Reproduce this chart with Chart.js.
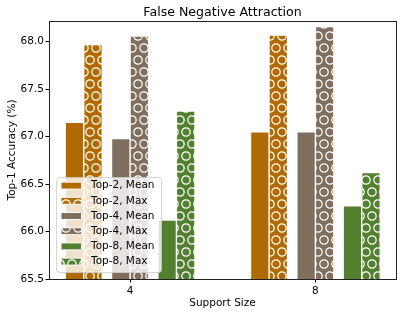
<!DOCTYPE html>
<html>
<head>
<meta charset="utf-8">
<script src="https://cdn.jsdelivr.net/npm/chart.js@4/dist/chart.umd.min.js"></script>
<style>
  body { margin: 0; background: #fff; }
  #wrap { width: 403px; height: 317px; position: relative; }
</style>
</head>
<body>
<div id="wrap"><canvas id="chart"></canvas></div>
<script>
// values
const supportSizes = [4, 8];
const seriesNames = ['Top-2, Mean', 'Top-2, Max', 'Top-4, Mean', 'Top-4, Max', 'Top-8, Mean', 'Top-8, Max'];
const top2Mean = [67.15, 67.05];
const top2Max = [67.97, 68.07];
const top4Mean = [66.98, 67.05];
const top4Max = [68.06, 68.16];
const top8Mean = [66.12, 66.27];
const top8Max = [67.27, 66.62];
const yTicks = [65.5, 66.0, 66.5, 67.0, 67.5, 68.0];

const FONT = 'DejaVu Sans';
const colTop2 = '#b06b00';
const colTop4 = '#806e5f';
const colTop8 = '#53802f';

// matplotlib style 'O' hatch: white rings on the bar colour
function circleHatch(color) {
    const p = 12;
    const c = document.createElement('canvas');
    c.width = p;
    c.height = 2 * p;
    const g = c.getContext('2d');
    g.fillStyle = color;
    g.fillRect(0, 0, p, 2 * p);
    g.strokeStyle = '#fff';
    g.lineWidth = 1.2;
    const r = 0.35 * p;
    [[0, 0], [p, 0], [0, 2 * p], [p, 2 * p], [p / 2, p]].forEach(([x, y]) => {
        g.beginPath();
        g.arc(x, y, r, 0, Math.PI * 2);
        g.stroke();
    });
    return document.getElementById('chart').getContext('2d').createPattern(c, 'repeat');
}

// pairs sit at -1, 0, +1 around each support size, mean left / max right
const pairShift = [-1, 0, 1];
const halfWidth = 0.2;

function makeSet(i, values, fill) {
    const shift = pairShift[Math.floor(i / 2)] + (i % 2 === 0 ? -halfWidth : halfWidth);
    return {
        label: seriesNames[i],
        data: supportSizes.map((s, j) => ({ x: s + shift, y: values[j] })),
        backgroundColor: fill,
        borderColor: '#ffffff',
        borderWidth: 1,
        grouped: false,
        barThickness: 18.5
    };
}

const datasets = [
    makeSet(0, top2Mean, colTop2),
    makeSet(1, top2Max, circleHatch(colTop2)),
    makeSet(2, top4Mean, colTop4),
    makeSet(3, top4Max, circleHatch(colTop4)),
    makeSet(4, top8Mean, colTop8),
    makeSet(5, top8Max, circleHatch(colTop8))
];

// frame round the plot area, like matplotlib spines
const framePlugin = {
    id: 'frame',
    afterDatasetsDraw(chart) {
        const a = chart.chartArea;
        const ctx = chart.ctx;
        ctx.save();
        ctx.strokeStyle = '#222';
        ctx.lineWidth = 1;
        ctx.strokeRect(a.left + 0.5, a.top + 0.5, a.right - a.left, a.bottom - a.top);
        ctx.restore();
    }
};

// legend in the lower left corner, drawn over the bars
const legendPlugin = {
    id: 'innerLegend',
    afterDraw(chart) {
        const a = chart.chartArea;
        const ctx = chart.ctx;
        const x0 = a.left + 7, y0 = a.bottom - 102, w = 105, h = 95;
        ctx.save();
        ctx.beginPath();
        ctx.roundRect(x0 + 0.5, y0 + 0.5, w, h, 3);
        ctx.fillStyle = 'rgba(255,255,255,0.8)';
        ctx.fill();
        ctx.strokeStyle = 'rgba(204,204,204,0.8)';
        ctx.lineWidth = 1;
        ctx.stroke();
        ctx.font = '10.5px "' + FONT + '"';
        ctx.textBaseline = 'middle';
        chart.data.datasets.forEach((ds, i) => {
            const cy = y0 + 8.6 + i * 15.2;
            ctx.fillStyle = ds.backgroundColor;
            ctx.fillRect(x0 + 5, cy - 3.5, 20.5, 7);
            ctx.strokeStyle = '#fff';
            ctx.strokeRect(x0 + 5, cy - 3.5, 20.5, 7);
            ctx.fillStyle = '#000';
            ctx.fillText(ds.label, x0 + 35, cy);
        });
        ctx.restore();
    }
};

new Chart(document.getElementById('chart'), {
    type: 'bar',
    data: { datasets: datasets },
    options: {
        responsive: true,
        maintainAspectRatio: false,
        animation: false,
        layout: { padding: { left: 0, right: 7, top: 0, bottom: 0 } },
        plugins: {
            legend: { display: false },
            tooltip: { enabled: false },
            title: {
                display: true,
                fullSize: false,
                text: 'False Negative Attraction',
                color: '#000',
                font: { family: FONT, size: 12.6, weight: 'normal' },
                padding: { top: 4.8, bottom: 1.08 }
            }
        },
        scales: {
            x: {
                type: 'linear',
                min: 2.25,
                max: 9.74,
                offset: false,
                afterBuildTicks: axis => { axis.ticks = supportSizes.map(v => ({ value: v })); },
                afterFit: axis => { axis.height = 38; },
                grid: { offset: false, drawOnChartArea: false, drawTicks: true, tickLength: 3.5, color: '#000' },
                border: { display: false },
                ticks: {
                    color: '#000',
                    padding: 2,
                    font: { family: FONT, size: 10.5 },
                    callback: v => String(v)
                },
                title: {
                    display: true,
                    text: 'Support Size',
                    color: '#000',
                    font: { family: FONT, size: 10.5 },
                    padding: { top: 0, bottom: 7 }
                }
            },
            y: {
                min: 65.5,
                max: 68.218,
                afterBuildTicks: axis => { axis.ticks = yTicks.map(v => ({ value: v })); },
                afterFit: axis => { axis.width = 49; },
                grid: { drawOnChartArea: false, drawTicks: true, tickLength: 3.5, color: '#000' },
                border: { display: false },
                ticks: {
                    color: '#000',
                    padding: 1.5,
                    font: { family: FONT, size: 10.5 },
                    callback: v => v.toFixed(1)
                },
                title: {
                    display: true,
                    text: 'Top-1 Accuracy (%)',
                    color: '#000',
                    font: { family: FONT, size: 10.5 },
                    padding: { top: 5.5, bottom: 0 }
                }
            }
        }
    },
    plugins: [framePlugin, legendPlugin]
});
</script>
</body>
</html>
